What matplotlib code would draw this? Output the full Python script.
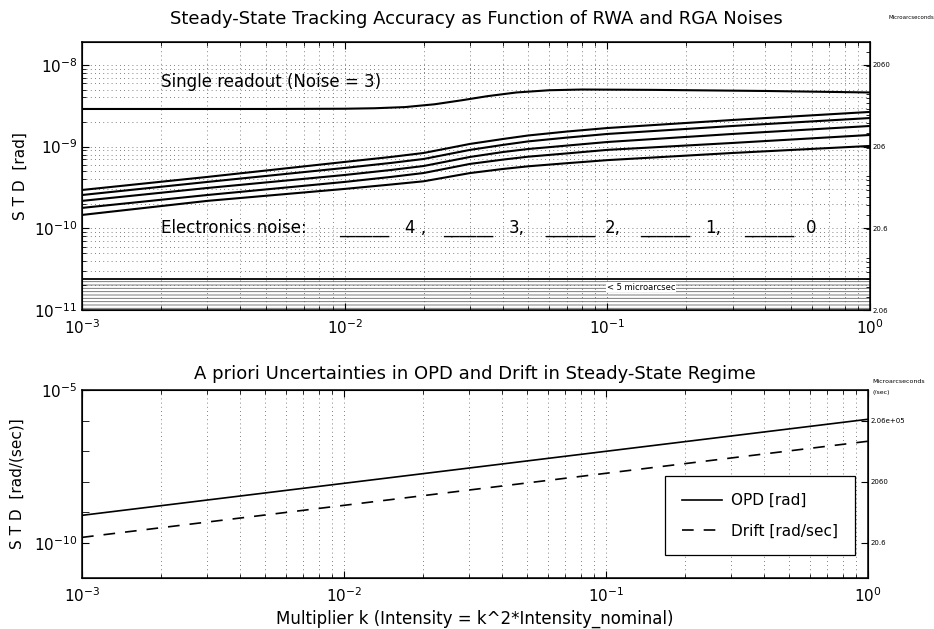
import numpy as np
import matplotlib.pyplot as plt
from matplotlib.ticker import LogLocator, NullFormatter, FixedLocator, FixedFormatter

plt.rcParams['font.family'] = ['DejaVu Sans']
plt.rcParams['hatch.linewidth'] = 0.6

RAD_TO_UAS = 2.06e11   # radians -> microarcseconds

# top panel: steady-state tracking accuracy, one curve per electronics noise level
k_noise = [0.001, 0.003, 0.01, 0.015, 0.02, 0.03, 0.04, 0.05, 0.07, 0.1, 0.3, 1.0]
noise_4 = [2.95e-10, 4.26e-10, 6.50e-10, 7.48e-10, 8.37e-10, 1.08e-9, 1.24e-9, 1.37e-9, 1.53e-9, 1.69e-9, 2.12e-9, 2.66e-9]
noise_3 = [2.56e-10, 3.70e-10, 5.49e-10, 6.32e-10, 7.07e-10, 9.13e-10, 1.05e-9, 1.16e-9, 1.29e-9, 1.43e-9, 1.79e-9, 2.24e-9]
noise_2 = [2.17e-10, 3.12e-10, 4.50e-10, 5.18e-10, 5.80e-10, 7.48e-10, 8.59e-10, 9.36e-10, 1.03e-9, 1.14e-9, 1.43e-9, 1.79e-9]
noise_1 = [1.78e-10, 2.56e-10, 3.70e-10, 4.26e-10, 4.76e-10, 6.15e-10, 6.94e-10, 7.54e-10, 8.26e-10, 9.13e-10, 1.11e-9, 1.39e-9]
noise_0 = [1.46e-10, 2.17e-10, 3.04e-10, 3.44e-10, 3.77e-10, 4.75e-10, 5.33e-10, 5.75e-10, 6.27e-10, 6.84e-10, 8.37e-10, 1.02e-9]

k_single = [0.001, 0.005, 0.01, 0.013, 0.017, 0.022, 0.028, 0.035, 0.045, 0.06, 0.08, 0.15, 0.4, 1.0]
single_readout = [2.89e-9, 2.89e-9, 2.91e-9, 2.95e-9, 3.05e-9, 3.3e-9, 3.7e-9, 4.15e-9, 4.6e-9,
                  4.9e-9, 5.0e-9, 4.95e-9, 4.8e-9, 4.6e-9]

noise_levels = ['4 ,', '3,', '2,', '1,', '0']

limit_uas = 5.0   # "< 5 microarcsec" band

# bottom panel: a priori uncertainties
k_apriori = [0.001, 1.0]
opd = [7.9e-10, 1.1e-6]
drift = [1.5e-10, 2.1e-7]

x_ticks = [1e-3, 1e-2, 1e-1, 1e0]
bot_y_ticks = [1e-10, 1e-5]
bot_y_minor = [1e-9, 1e-8, 1e-7, 1e-6]
top_right_ticks = [2.06, 20.6, 206, 2060]
top_right_labels = ['2.06', '20.6', '206', '2060']
bot_right_ticks = [20.6, 2060, 2.06e5]
bot_right_labels = ['20.6', '2060', '2.06e+05']

grid_style = dict(color='0.35', linestyle=(0, (1, 4)), linewidth=0.6)


def matlab_axes(ax):
    ax.set_xscale('log')
    ax.set_yscale('log')
    ax.set_xlim(1e-3, 1)
    ax.set_xticks(x_ticks)
    ax.xaxis.set_minor_locator(LogLocator(subs=np.arange(2, 10)))
    ax.xaxis.set_minor_formatter(NullFormatter())
    ax.tick_params(which='both', direction='in', top=True, right=False, labelsize=11)
    ax.tick_params(which='major', length=5)
    ax.tick_params(which='minor', length=3)
    ax.tick_params(axis='x', pad=6)
    for s in ax.spines.values():
        s.set_linewidth(1.1)


def right_axis(ax, ticks, labels, minor=True):
    ax_r = ax.twinx()
    ax_r.set_yscale('log')
    lo, hi = ax.get_ylim()
    ax_r.set_ylim(lo * RAD_TO_UAS, hi * RAD_TO_UAS)
    ax_r.yaxis.set_major_locator(FixedLocator(ticks))
    ax_r.yaxis.set_major_formatter(FixedFormatter(labels))
    if minor:
        ax_r.yaxis.set_minor_locator(LogLocator(subs=np.arange(2, 10)))
    else:
        ax_r.yaxis.set_minor_locator(FixedLocator([]))
    ax_r.yaxis.set_minor_formatter(NullFormatter())
    ax_r.tick_params(which='both', direction='in', labelsize=5, pad=2)
    ax_r.tick_params(which='major', length=5)
    ax_r.tick_params(which='minor', length=3)
    return ax_r


fig = plt.figure(figsize=(9.34, 6.29), dpi=100)

# ---------------- top panel ----------------
ax1 = fig.add_axes([0.0878, 0.507, 0.8437, 0.426])
matlab_axes(ax1)
ax1.set_ylim(1e-11, 1.9e-8)
ax1.yaxis.set_minor_locator(LogLocator(subs=np.arange(2, 10)))
ax1.yaxis.set_minor_formatter(NullFormatter())
ax1.grid(True, which='both', axis='both', **grid_style)

for series in [noise_4, noise_3, noise_2, noise_1, noise_0]:
    ax1.plot(k_noise, series, color='k', linewidth=1.5)
ax1.plot(k_single, single_readout, color='k', linewidth=1.5)

limit_rad = limit_uas / RAD_TO_UAS
ax1.axhspan(1e-11, limit_rad, facecolor='none', edgecolor='0.4', hatch='-----', linewidth=0)
ax1.axhline(limit_rad, color='k', linewidth=1.3)
ax1.text(0.666, 0.086, '< 5 microarcsec', transform=ax1.transAxes, fontsize=6,
         va='center', ha='left', bbox=dict(facecolor='white', edgecolor='none', pad=0.5))

ax1.text(0.10, 0.851, 'Single readout (Noise = 3)', transform=ax1.transAxes, fontsize=12,
         va='center', ha='left')

# hand-made key for the electronics noise curves
ax1.text(0.10, 0.306, 'Electronics noise:', transform=ax1.transAxes, fontsize=12,
         va='center', ha='left')
seg_x = [0.326, 0.458, 0.588, 0.708, 0.840]
num_x = [0.410, 0.541, 0.664, 0.791, 0.918]
for sx, nx, lab in zip(seg_x, num_x, noise_levels):
    ax1.text(sx, 0.306, '______', transform=ax1.transAxes, fontsize=12, va='center', ha='left')
    ax1.text(nx, 0.306, lab, transform=ax1.transAxes, fontsize=12, va='center', ha='left')

ax1.set_title('Steady-State Tracking Accuracy as Function of RWA and RGA Noises', fontsize=13, pad=13)
ax1.set_ylabel('S T D  [rad]', fontsize=11)
ax1.yaxis.set_label_coords(-0.069, 0.5)
right_axis(ax1, top_right_ticks, top_right_labels)
fig.text(0.951, 0.972, 'Microarcseconds', fontsize=4, ha='left', va='center')

# ---------------- bottom panel ----------------
ax2 = fig.add_axes([0.0878, 0.081, 0.8415, 0.299])
matlab_axes(ax2)
ax2.set_ylim(7e-12, 1e-5)
ax2.yaxis.set_major_locator(FixedLocator(bot_y_ticks))
ax2.yaxis.set_minor_locator(FixedLocator(bot_y_minor))
ax2.yaxis.set_minor_formatter(NullFormatter())
ax2.tick_params(axis='y', which='minor', length=5)
ax2.grid(True, which='both', axis='x', **grid_style)

ax2.plot(k_apriori, opd, color='k', linewidth=1.2, label='OPD [rad]')
ax2.plot(k_apriori, drift, color='k', linewidth=1.2, linestyle=(0, (7, 6)), label='Drift [rad/sec]')
leg = ax2.legend(loc='lower right', bbox_to_anchor=(0.993, 0.08), fontsize=11,
                 fancybox=False, framealpha=1, edgecolor='k', handlelength=2.6,
                 borderpad=1.1, labelspacing=1.0, handletextpad=0.6)
leg.get_frame().set_linewidth(0.9)

ax2.set_title('A priori Uncertainties in OPD and Drift in Steady-State Regime', fontsize=13, pad=8)
ax2.set_ylabel('S T D  [rad/(sec)]', fontsize=11)
ax2.yaxis.set_label_coords(-0.073, 0.5)
ax2.set_xlabel('Multiplier k (Intensity = k^2*Intensity_nominal)', fontsize=12, labelpad=3)
right_axis(ax2, bot_right_ticks, bot_right_labels, minor=False)
fig.text(0.934, 0.394, 'Microarcseconds', fontsize=4.5, ha='left', va='center')
fig.text(0.934, 0.376, '(/sec)', fontsize=4.5, ha='left', va='center')

fig.savefig('out.png', dpi=100)
